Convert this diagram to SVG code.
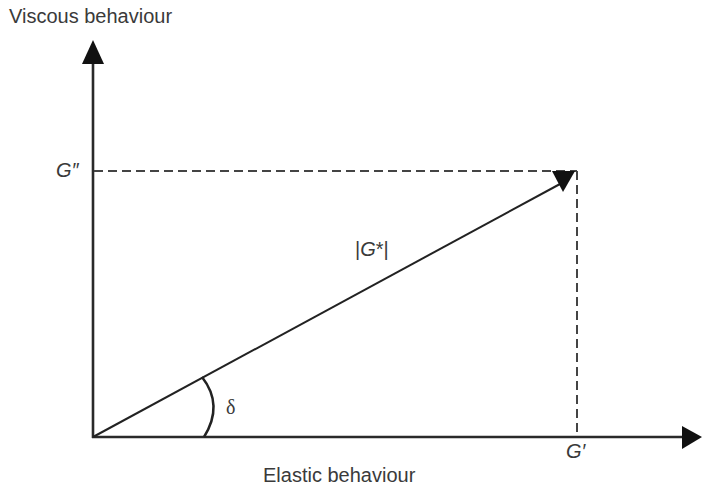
<svg xmlns="http://www.w3.org/2000/svg" width="702" height="490" viewBox="0 0 702 490">
<style>
.lbl{font-family:"Liberation Sans",Arial,sans-serif;fill:#3a3a3a;font-size:20px}
.it{font-style:italic}
.axis{stroke:#2a2a2a;stroke-width:2.6;fill:none}
.dash{stroke:#444;stroke-width:2;stroke-dasharray:9,5;fill:none}
.head{fill:#111}
</style>
<rect width="702" height="490" fill="#fff"/>
<g id="axes">
<line class="axis" x1="93" y1="438" x2="93" y2="60"/>
<polygon class="head" points="93,40 82,64 104,64"/>
<line class="axis" x1="92" y1="437" x2="685" y2="437"/>
<polygon class="head" points="702,437 682,426 682,449"/>
</g>
<g id="connectors">
<line class="dash" x1="94" y1="171" x2="577" y2="171"/>
<line class="dash" x1="577" y1="171" x2="577" y2="436"/>
<line x1="93" y1="437" x2="560" y2="184" stroke="#222" stroke-width="2"/>
<polygon class="head" points="552,171 575,171 563,192"/>
<path d="M202,377 Q224,405 204,437" stroke="#222" stroke-width="2.5" fill="none"/>
</g>
<g id="labels">
<text class="lbl" x="9" y="23">Viscous behaviour</text>
<text class="lbl it" x="56" y="177">G″</text>
<text class="lbl" x="355" y="256"><tspan>|</tspan><tspan class="it">G</tspan><tspan>*|</tspan></text>
<text x="226" y="414" font-family="Liberation Serif,serif" font-size="20" fill="#3a3a3a">δ</text>
<text class="lbl it" x="566" y="458">G′</text>
<text class="lbl" x="263" y="482">Elastic behaviour</text>
</g>
</svg>
